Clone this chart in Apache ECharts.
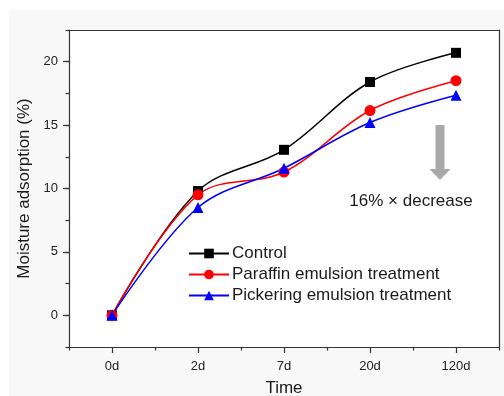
<!DOCTYPE html>
<html>
<head>
<meta charset="utf-8">
<script src="https://cdn.jsdelivr.net/npm/echarts@6/dist/echarts.min.js"></script>
<style>
html,body{margin:0;padding:0;background:#fff;}
#wrap{position:relative;width:504px;height:396px;background:#fff;}
#panel{position:absolute;left:9px;top:10px;right:0;bottom:0;background:#f8f8f8;}
#chart{position:absolute;left:0;top:0;width:504px;height:396px;}
</style>
</head>
<body>
<div id="wrap"><div id="panel"></div><div id="chart"></div></div>
<script>
var categories = ['0d', '2d', '7d', '20d', '120d'];
var controlValues = [0, 9.8, 13.05, 18.4, 20.7];
var paraffinValues = [0, 9.5, 11.3, 16.15, 18.5];
var pickeringValues = [0, 8.5, 11.6, 15.2, 17.35];
var yTickValues = [0, 5, 10, 15, 20];
var seriesNames = ['Control', 'Paraffin emulsion treatment', 'Pickering emulsion treatment'];

var FONT = 'Liberation Sans, Arial, sans-serif';
var AX = '#333';
var chart = echarts.init(document.getElementById('chart'), null, {renderer: 'canvas'});

function mkSeries(name, data, color, symbol, size) {
  return {
    name: name, type: 'line', data: data, smooth: 0.35,
    xAxisIndex: 0, yAxisIndex: 0,
    symbol: symbol, symbolSize: size, showSymbol: true,
    lineStyle: {color: color, width: 1.5},
    itemStyle: {color: color},
    emphasis: {disabled: true},
    z: 3
  };
}

chart.setOption({
  backgroundColor: 'transparent',
  animation: false,
  textStyle: {fontFamily: FONT},
  grid: {left: 69, right: 5, top: 30, bottom: 49, show: true, backgroundColor: '#fff', borderWidth: 0, containLabel: false, outerBoundsMode: 'none', z: -10},
  legend: {
    orient: 'vertical', left: 183, top: 240,
    itemWidth: 40, itemHeight: 12, itemGap: 4,
    textStyle: {fontFamily: FONT, fontSize: 17, color: '#1a1a1a', padding: [0, 0, 0, -2]},
    data: seriesNames
  },
  xAxis: [
    {
      type: 'category', data: categories, boundaryGap: true, position: 'bottom', z: 5,
      axisLine: {show: true, onZero: false, lineStyle: {color: AX, width: 1.2}},
      axisTick: {show: true, alignWithLabel: true, length: 6, inside: false, lineStyle: {color: AX, width: 1.2}},
      axisLabel: {fontFamily: FONT, fontSize: 13, color: '#222', margin: 13},
      splitLine: {show: false},
      name: 'Time', nameLocation: 'middle', nameGap: 33,
      nameTextStyle: {fontFamily: FONT, fontSize: 17, color: '#1a1a1a'}
    },
    {
      type: 'category', data: categories, boundaryGap: true, position: 'bottom', z: 5,
      axisLine: {show: false, onZero: false},
      axisTick: {show: true, length: 3.5, lineStyle: {color: AX, width: 1.2}},
      axisLabel: {show: false},
      splitLine: {show: false}
    },
    {
      type: 'category', data: categories, boundaryGap: true, position: 'top', z: 5,
      axisLine: {show: true, onZero: false, lineStyle: {color: AX, width: 1.2}},
      axisTick: {show: false},
      axisLabel: {show: false},
      splitLine: {show: false}
    }
  ],
  yAxis: [
    {
      type: 'value', min: -2.5, max: 22.5, interval: 2.5, z: 5,
      axisLine: {show: true, onZero: false, lineStyle: {color: AX, width: 1.2}},
      axisTick: {show: true, length: 6, customValues: yTickValues, lineStyle: {color: AX, width: 1.2}},
      axisLabel: {fontFamily: FONT, fontSize: 13, color: '#222', margin: 11, customValues: yTickValues},
      splitLine: {show: false},
      name: 'Moisture adsorption (%)', nameLocation: 'middle', nameGap: 35,
      nameTextStyle: {fontFamily: FONT, fontSize: 17, color: '#1a1a1a'}
    },
    {
      type: 'value', min: -2.5, max: 22.5, interval: 2.5, position: 'left', z: 5,
      axisLine: {show: false, onZero: false},
      axisTick: {show: true, length: 3.5, lineStyle: {color: AX, width: 1.2}},
      axisLabel: {show: false},
      splitLine: {show: false}
    },
    {
      type: 'value', min: -2.5, max: 22.5, interval: 2.5, position: 'right', z: 5,
      axisLine: {show: true, onZero: false, lineStyle: {color: AX, width: 1.2}},
      axisTick: {show: false},
      axisLabel: {show: false},
      splitLine: {show: false}
    }
  ],
  graphic: [
    {type: 'rect', shape: {x: 435.5, y: 125, width: 9, height: 45}, style: {fill: '#a9a9a9'}},
    {type: 'polygon', shape: {points: [[429.5, 169], [450.5, 169], [440, 180]]}, style: {fill: '#a9a9a9'}},
    {type: 'text', style: {text: '16% \u00d7 decrease', x: 411, y: 201, align: 'center', verticalAlign: 'middle', font: '17px ' + FONT, fill: '#1a1a1a'}}
  ],
  series: [
    mkSeries(seriesNames[0], controlValues, '#000000', 'rect', 10),
    mkSeries(seriesNames[1], paraffinValues, '#ff0000', 'circle', 11),
    mkSeries(seriesNames[2], pickeringValues, '#0000ff', 'triangle', 11)
  ]
});
</script>
</body>
</html>
